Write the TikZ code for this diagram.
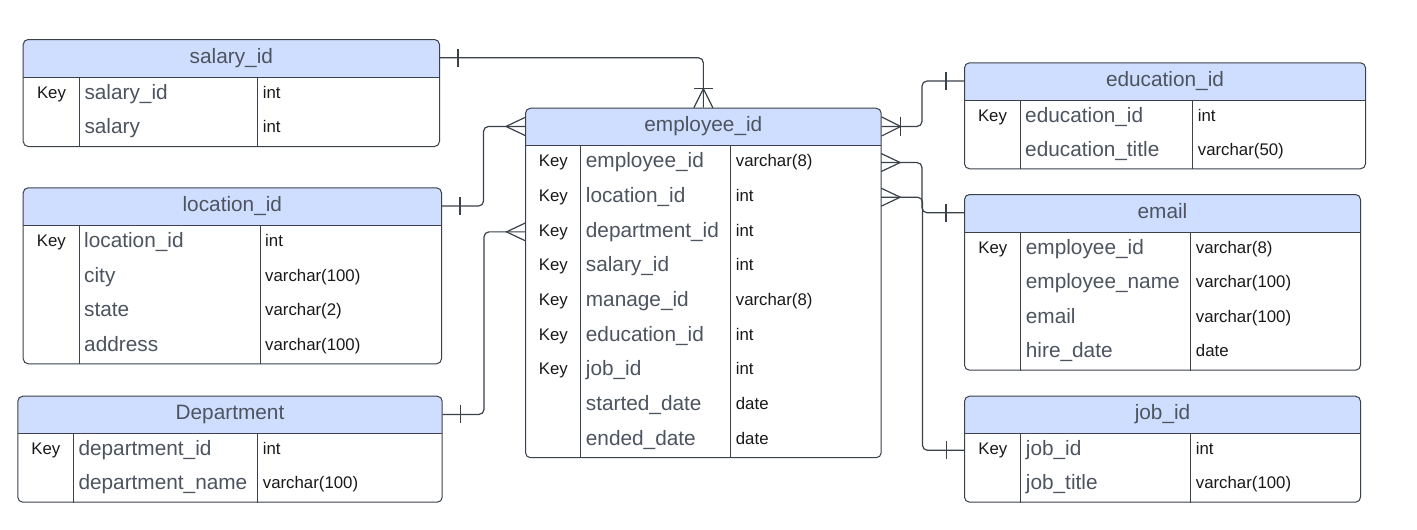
\documentclass[tikz,border=0pt]{standalone}
\usepackage{fontspec}
\setmainfont{Liberation Sans}
\usetikzlibrary{calc}
\definecolor{edgegray}{RGB}{58,65,74}
\definecolor{headblue}{RGB}{207,222,255}
\definecolor{textgray}{RGB}{77,84,96}
\definecolor{darktext}{RGB}{25,25,25}

\begin{document}
\begin{tikzpicture}[x=1pt,y=-1pt]
\tikzstyle{tbl}=[draw=edgegray,line width=1pt,rounded corners=5,fill=white,anchor=north west,inner sep=0,
  path picture={\fill[headblue,sharp corners] (path picture bounding box.north west) rectangle ([yshift=-37.5pt]path picture bounding box.north east);
  \draw[edgegray,line width=1pt,sharp corners] ([yshift=-37.5pt]path picture bounding box.north west) -- ([yshift=-37.5pt]path picture bounding box.north east);}]
\tikzstyle{row}=[inner sep=0,outer sep=0]
\tikzstyle{head}=[inner sep=0,text=textgray,font=\fontsize{20.8}{24}\selectfont,text height=15pt,text depth=4.4pt]
\tikzstyle{field}=[anchor=west,inner sep=0,text=textgray,font=\fontsize{20.8}{24}\selectfont,text height=15pt,text depth=4.4pt]
\tikzstyle{type}=[anchor=west,inner sep=0,text=darktext,font=\fontsize{16.8}{20}\selectfont,text height=12.1pt,text depth=3.5pt]
\tikzstyle{key}=[inner sep=0,text=darktext,font=\fontsize{16.8}{20}\selectfont,text height=12.1pt,text depth=3.5pt]
\tikzstyle{sep}=[draw=edgegray,line width=0.9pt]
\tikzstyle{link}=[draw=edgegray,line width=1.2pt]
\tikzstyle{conn}=[link,rounded corners=5]
\tikzset{
  onemark/.pic={\draw[link] (18,-9) -- (18,9);},
  manymark/.pic={\draw[link] (0,-9) -- (19,0) -- (0,9);},
  onemanymark/.pic={\draw[link] (0,-9.5) -- (19,0) -- (0,9.5); \draw[link] (19,-9.5) -- (19,9.5);}
}
\useasboundingbox (0,0) rectangle (1417,530);

% salary_id
\node(sal)[tbl,minimum width=416.3,minimum height=107] at (22.7,39) {};
\node(sal-h)[head] at ($(sal.north)+(0,18.75)$) {salary\_id};
\foreach \k/\f/\t [count=\i] in {Key/salary\_id/int, /salary/int}{
  \node(sal-r\i)[row,minimum width=416.3,minimum height=34.75] at ($(sal.north)+(0,{37.5+(\i-.5)*34.75})$) {};
  \node[key] at ($(sal-r\i.west)+(28.3,0)$) {\k};
  \node[field] at ($(sal-r\i.west)+(61.1,0)$) {\f};
  \node[type] at ($(sal-r\i.west)+(239.5,0)$) {\t};
}
\draw[sep] ($(sal.north west)+(56.6,37.5)$) -- ($(sal.south west)+(56.6,0)$);
\draw[sep] ($(sal.north west)+(235,37.5)$) -- ($(sal.south west)+(235,0)$);

% location_id
\node(loc)[tbl,minimum width=418.3,minimum height=176] at (22.7,187.3) {};
\node(loc-h)[head] at ($(loc.north)+(0,18.75)$) {location\_id};
\foreach \k/\f/\t [count=\i] in {Key/location\_id/int, /city/varchar(100), /state/varchar(2), /address/varchar(100)}{
  \node(loc-r\i)[row,minimum width=418.3,minimum height=34.6] at ($(loc.north)+(0,{37.5+(\i-.5)*34.6})$) {};
  \node[key] at ($(loc-r\i.west)+(28.2,0)$) {\k};
  \node[field] at ($(loc-r\i.west)+(60.8,0)$) {\f};
  \node[type] at ($(loc-r\i.west)+(241.8,0)$) {\t};
}
\draw[sep] ($(loc.north west)+(56.3,37.5)$) -- ($(loc.south west)+(56.3,0)$);
\draw[sep] ($(loc.north west)+(237.3,37.5)$) -- ($(loc.south west)+(237.3,0)$);

% Department
\node(dep)[tbl,minimum width=424.4,minimum height=106] at (17.3,395.7) {};
\node(dep-h)[head] at ($(dep.north)+(0,18.75)$) {Department};
\foreach \k/\f/\t [count=\i] in {Key/department\_id/int, /department\_name/varchar(100)}{
  \node(dep-r\i)[row,minimum width=424.4,minimum height=34.25] at ($(dep.north)+(0,{37.5+(\i-.5)*34.25})$) {};
  \node[key] at ($(dep-r\i.west)+(28,0)$) {\k};
  \node[field] at ($(dep-r\i.west)+(60.5,0)$) {\f};
  \node[type] at ($(dep-r\i.west)+(244.9,0)$) {\t};
}
\draw[sep] ($(dep.north west)+(56,37.5)$) -- ($(dep.south west)+(56,0)$);
\draw[sep] ($(dep.north west)+(240.4,37.5)$) -- ($(dep.south west)+(240.4,0)$);

% employee_id
\node(emp)[tbl,minimum width=355.7,minimum height=349.5] at (525,107.7) {};
\node(emp-h)[head] at ($(emp.north)+(0,18.75)$) {employee\_id};
\foreach \k/\f/\t [count=\i] in {Key/employee\_id/varchar(8), Key/location\_id/int, Key/department\_id/int,
    Key/salary\_id/int, Key/manage\_id/varchar(8), Key/education\_id/int, Key/job\_id/int,
    /started\_date/date, /ended\_date/date}{
  \node(emp-r\i)[row,minimum width=355.7,minimum height=34.67] at ($(emp.north)+(0,{37.5+(\i-.5)*34.67})$) {};
  \node[key] at ($(emp-r\i.west)+(27.9,0)$) {\k};
  \node[field] at ($(emp-r\i.west)+(60.2,0)$) {\f};
  \node[type] at ($(emp-r\i.west)+(210.2,0)$) {\t};
}
\draw[sep] ($(emp.north west)+(55.7,37.5)$) -- ($(emp.south west)+(55.7,0)$);
\draw[sep] ($(emp.north west)+(205.7,37.5)$) -- ($(emp.south west)+(205.7,0)$);

% education_id
\node(edu)[tbl,minimum width=401,minimum height=106] at (964,62.3) {};
\node(edu-h)[head] at ($(edu.north)+(0,18.75)$) {education\_id};
\foreach \k/\f/\t [count=\i] in {Key/education\_id/int, /education\_title/varchar(50)}{
  \node(edu-r\i)[row,minimum width=401,minimum height=34.25] at ($(edu.north)+(0,{37.5+(\i-.5)*34.25})$) {};
  \node[key] at ($(edu-r\i.west)+(28,0)$) {\k};
  \node[field] at ($(edu-r\i.west)+(60.5,0)$) {\f};
  \node[type] at ($(edu-r\i.west)+(233.2,0)$) {\t};
}
\draw[sep] ($(edu.north west)+(56,37.5)$) -- ($(edu.south west)+(56,0)$);
\draw[sep] ($(edu.north west)+(228.7,37.5)$) -- ($(edu.south west)+(228.7,0)$);

% email
\node(mail)[tbl,minimum width=396,minimum height=175.7] at (964,194) {};
\node(mail-h)[head] at ($(mail.north)+(0,18.75)$) {email};
\foreach \k/\f/\t [count=\i] in {Key/employee\_id/varchar(8), /employee\_name/varchar(100), /email/varchar(100), /hire\_date/date}{
  \node(mail-r\i)[row,minimum width=396,minimum height=34.55] at ($(mail.north)+(0,{37.5+(\i-.5)*34.55})$) {};
  \node[key] at ($(mail-r\i.west)+(28.3,0)$) {\k};
  \node[field] at ($(mail-r\i.west)+(61.2,0)$) {\f};
  \node[type] at ($(mail-r\i.west)+(231.2,0)$) {\t};
}
\draw[sep] ($(mail.north west)+(56.7,37.5)$) -- ($(mail.south west)+(56.7,0)$);
\draw[sep] ($(mail.north west)+(226.7,37.5)$) -- ($(mail.south west)+(226.7,0)$);

% job_id
\node(job)[tbl,minimum width=396,minimum height=106] at (964,395.7) {};
\node(job-h)[head] at ($(job.north)+(0,18.75)$) {job\_id};
\foreach \k/\f/\t [count=\i] in {Key/job\_id/int, /job\_title/varchar(100)}{
  \node(job-r\i)[row,minimum width=396,minimum height=34.25] at ($(job.north)+(0,{37.5+(\i-.5)*34.25})$) {};
  \node[key] at ($(job-r\i.west)+(28.3,0)$) {\k};
  \node[field] at ($(job-r\i.west)+(61.2,0)$) {\f};
  \node[type] at ($(job-r\i.west)+(231.2,0)$) {\t};
}
\draw[sep] ($(job.north west)+(56.7,37.5)$) -- ($(job.south west)+(56.7,0)$);
\draw[sep] ($(job.north west)+(226.7,37.5)$) -- ($(job.south west)+(226.7,0)$);

% relationships
\draw[conn] (sal.east |- sal-h) -| (emp.north);
\draw[conn] (loc.east |- loc-h) -- ++(41.5,0) |- (emp.west |- emp-h);
\draw[conn] (dep.east |- dep-h) -- ++(41.3,0) |- (emp-r3.west);
\draw[conn] (edu.west |- edu-h) -- ++(-42,0) |- (emp.east |- emp-h);
\draw[conn] (mail.west |- mail-h) -- ++(-42,0) |- (emp-r1.east);
\draw[conn] (job-r1.west) -- ++(-42,0) |- (emp-r2.east);

% cardinality marks
\pic at (sal.east |- sal-h) {onemark};
\pic at (loc.east |- loc-h) {onemark};
\pic at (dep.east |- dep-h) {onemark};
\pic[rotate=180] at (edu.west |- edu-h) {onemark};
\pic[rotate=180] at (mail.west |- mail-h) {onemark};
\pic[rotate=180] at (job-r1.west) {onemark};
\pic[rotate=180] at (emp.west |- emp-h) {manymark};
\pic[rotate=180] at (emp-r3.west) {manymark};
\pic at (emp-r1.east) {manymark};
\pic at (emp-r2.east) {manymark};
\pic[rotate=90] at (emp.north) {onemanymark};
\pic at (emp.east |- emp-h) {onemanymark};
\end{tikzpicture}
\end{document}
